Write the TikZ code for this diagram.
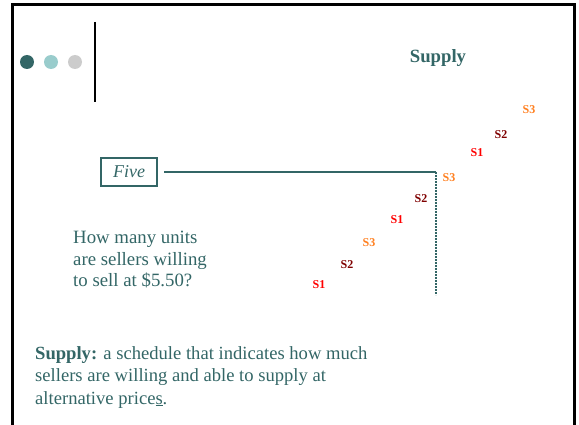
\documentclass[tikz,border=0pt]{standalone}
\usepackage{fontspec}
\setmainfont{Liberation Serif}
\usepackage{tikz}
\usetikzlibrary{positioning}
\definecolor{teal1}{HTML}{336666}
\definecolor{teal2}{HTML}{99CCCC}
\definecolor{grey1}{HTML}{CCCCCC}
\definecolor{sorange}{HTML}{FF7F1F}
\definecolor{sdark}{HTML}{7F0000}
\definecolor{sred}{HTML}{FF0000}
\tikzstyle{dot} = [circle, minimum size=14pt, inner sep=0pt]
\tikzstyle{body} = [text=teal1, font=\fontsize{18.8}{21.5}\selectfont, align=left, inner sep=0pt]
\tikzstyle{lbl} = [font=\fontsize{12}{14}\selectfont\bfseries, inner sep=0pt]
\tikzstyle{sone} = [lbl, text=sred]
\tikzstyle{stwo} = [lbl, text=sdark]
\tikzstyle{sthree} = [lbl, text=sorange]

\begin{document}
\begin{tikzpicture}[x=1pt, y=-1pt]
        \useasboundingbox (0,0) rectangle (579,425);
        \draw [line width=3pt] (12,425) -- (12,5) -- (574,5) -- (574,425);

        \node (dota) [dot, fill=teal1] at (27,62) {};
        \node (dotb) [dot, fill=teal2] at (51,62) {};
        \node (dotc) [dot, fill=grey1] at (75,62) {};
        \draw [line width=2pt] (95,22) -- (95,102);

        \node (title) [text=teal1, font=\fontsize{18.7}{20}\selectfont\bfseries] at (438,58) {Supply};

        \node (five) [draw=teal1, line width=2pt, text=teal1, font=\fontsize{18}{20}\selectfont\itshape, minimum width=56pt, minimum height=28pt, inner sep=0pt] at (129,172) {Five};
        \coordinate (corner) at (436,172);
        \coordinate (bottom) at (436,295);
        \draw [teal1, line width=2pt] (164,172) -- (corner);
        \draw [teal1, line width=2.5pt, dash pattern=on 2pt off 1pt] (corner) -- (bottom);

        \node (a3) [sthree] at (529,110) {S3};
        \node (a2) [stwo] at (501,135) {S2};
        \node (a1) [sone] at (477,153) {S1};
        \node (b3) [sthree] at (449,178) {S3};
        \node (b2) [stwo] at (421,199) {S2};
        \node (b1) [sone] at (397,220) {S1};
        \node (c3) [sthree] at (369,243) {S3};
        \node (c2) [stwo] at (347,265) {S2};
        \node (c1) [sone] at (319,285) {S1};

        \node (question) [body, anchor=north west] at (73,231) {How many units\\are sellers willing\\to sell at \$5.50?};
        \node (defn) [body, anchor=north west, font=\fontsize{18.6}{22.5}\selectfont] at (35,346) {\textbf{Supply:} a schedule that indicates how much\\sellers are willing and able to supply at\\alternative price\underline{s}.};
    \end{tikzpicture}
\end{document}
